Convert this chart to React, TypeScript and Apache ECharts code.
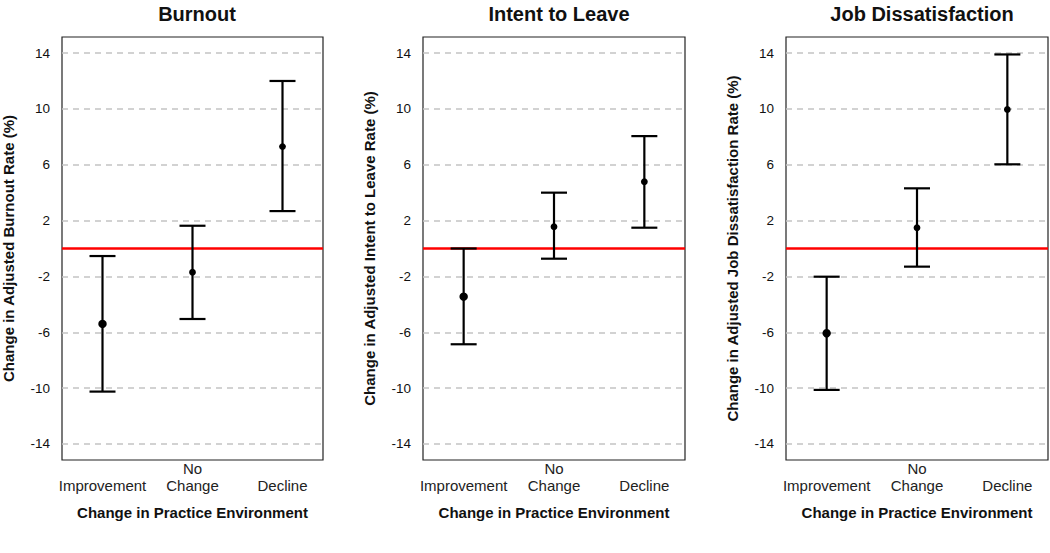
import React, { useEffect, useRef } from "react";
import * as echarts from "echarts";

const categories = ["Improvement", "No\nChange", "Decline"];
const panelTitles = ["Burnout", "Intent to Leave", "Job Dissatisfaction"];
const yAxisTitles = [
  "Change in Adjusted Burnout Rate (%)",
  "Change in Adjusted Intent to Leave Rate (%)",
  "Change in Adjusted Job Dissatisfaction Rate (%)",
];
const xAxisTitle = "Change in Practice Environment";
const yTicks = [-14, -10, -6, -2, 2, 6, 10, 14];

// estimates, lower CI, upper CI per category
const burnoutEst = [-5.4, -1.7, 7.3];
const burnoutLow = [-10.25, -5.05, 2.68];
const burnoutHigh = [-0.54, 1.63, 12.0];

const leaveEst = [-3.45, 1.56, 4.78];
const leaveLow = [-6.86, -0.73, 1.49];
const leaveHigh = [0.0, 4.0, 8.05];

const dissatEst = [-6.07, 1.49, 9.96];
const dissatLow = [-10.13, -1.3, 6.03];
const dissatHigh = [-2.02, 4.31, 13.9];

const panelEst = [burnoutEst, leaveEst, dissatEst];
const panelLow = [burnoutLow, leaveLow, dissatLow];
const panelHigh = [burnoutHigh, leaveHigh, dissatHigh];

const gridLefts = [61, 423, 786];
const gridWidth = 262;

export default function App() {
  const ref = useRef<HTMLDivElement>(null);
  useEffect(() => {
    if (!ref.current) return;
    const chart = echarts.init(ref.current, null, { renderer: "svg" });
    const font = "Arial, 'Liberation Sans', sans-serif";

    const grids = gridLefts.map((l) => ({
      left: l,
      top: 37,
      width: gridWidth,
      height: 423,
      show: true,
      borderColor: "#222",
      borderWidth: 1.2,
      backgroundColor: "transparent",
    }));

    const xAxes = gridLefts.map((_, i) => ({
      type: "value",
      gridIndex: i,
      min: 0.55,
      max: 3.45,
      name: xAxisTitle,
      nameLocation: "middle",
      nameGap: 45,
      nameTextStyle: { fontFamily: font, fontWeight: "bold", fontSize: 15, color: "#111" },
      axisLine: { show: false },
      axisTick: { show: false },
      splitLine: { show: false },
      axisLabel: {
        customValues: [1, 2, 3],
        margin: 0,
        fontFamily: font,
        fontSize: 15,
        lineHeight: 17,
        color: "#222",
        formatter: (v: number) => {
          const c = categories[Math.round(v) - 1] || "";
          return c.includes("\n") ? c : "\n" + c;
        },
      },
    }));

    const yAxes = gridLefts.map((_, i) => ({
      type: "value",
      gridIndex: i,
      min: -15.15,
      max: 15.15,
      name: yAxisTitles[i],
      nameLocation: "middle",
      nameGap: 46,
      nameRotate: 90,
      nameTextStyle: { fontFamily: font, fontWeight: "bold", fontSize: 15, color: "#111" },
      axisLine: { show: false },
      axisTick: { show: false, customValues: yTicks },
      axisLabel: {
        customValues: yTicks,
        margin: 12,
        fontFamily: font,
        fontSize: 13.5,
        color: "#111",
      },
      splitLine: {
        show: true,
        lineStyle: { color: "#c4c4c4", type: [6, 5], width: 1.5 },
      },
    }));

    const series = gridLefts.map((_, p) => ({
      type: "custom",
      xAxisIndex: p,
      yAxisIndex: p,
      data: categories.map((_, i) => [i + 1, panelLow[p][i], panelHigh[p][i], panelEst[p][i]]),
      renderItem: (params: any, api: any) => {
        const x = api.value(0);
        const lo = api.coord([x, api.value(1)]);
        const hi = api.coord([x, api.value(2)]);
        const est = api.coord([x, api.value(3)]);
        const half = 13;
        const style = { stroke: "#000", lineWidth: 2.2 };
        const r = params.dataIndex === 0 ? 4.2 : 3.4;
        return {
          type: "group",
          children: [
            { type: "line", shape: { x1: hi[0], y1: hi[1], x2: lo[0], y2: lo[1] }, style },
            { type: "line", shape: { x1: hi[0] - half, y1: hi[1], x2: hi[0] + half, y2: hi[1] }, style },
            { type: "line", shape: { x1: lo[0] - half, y1: lo[1], x2: lo[0] + half, y2: lo[1] }, style },
            { type: "circle", shape: { cx: est[0], cy: est[1], r }, style: { fill: "#000" } },
          ],
        };
      },
      markLine: {
        silent: true,
        symbol: "none",
        label: { show: false },
        lineStyle: { color: "#ff0000", width: 2.5, type: "solid" },
        data: [{ yAxis: 0 }],
        z: 1,
      },
      z: 5,
    }));

    const titles = panelTitles.map((t, i) => ({
      text: t,
      left: gridLefts[i] + gridWidth / 2,
      top: -1,
      textAlign: "center",
      textStyle: { fontFamily: font, fontWeight: "bold", fontSize: 20, color: "#111" },
    }));

    chart.setOption({
      animation: false,
      backgroundColor: "#fff",
      title: titles,
      grid: grids,
      xAxis: xAxes,
      yAxis: yAxes,
      series,
    });
    return () => chart.dispose();
  }, []);
  return (
    <div
      ref={ref}
      style={{ position: "fixed", left: 0, top: 0, width: 1050, height: 553 }}
    />
  );
}
